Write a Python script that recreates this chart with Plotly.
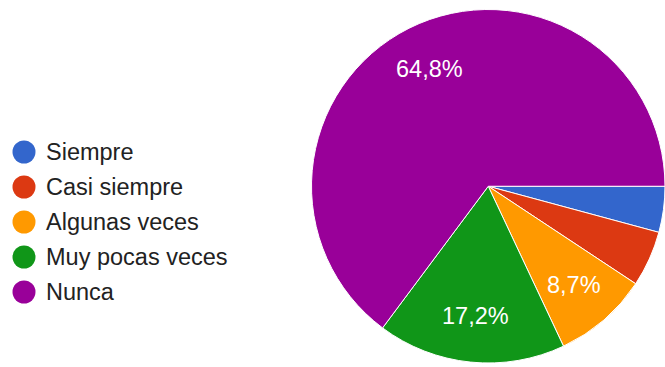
import math
import plotly.graph_objects as go

# Survey answers and their shares (%)
categories = ["Siempre", "Casi siempre", "Algunas veces", "Muy pocas veces", "Nunca"]
shares = [4.2, 5.1, 8.7, 17.2, 64.8]
colors = ["#3366cc", "#dc3912", "#ff9900", "#109618", "#990099"]

# Only slices big enough carry a percentage label (decimal comma)
min_labelled = 8.0

W, H = 665, 367
font_family = "Liberation Sans, Arial, sans-serif"
text_size = 23.5

# Pie placement (paper fractions)
dom_x = [311.5 / W, 1.0]
dom_y = [4 / H, 357.5 / H]

fig = go.Figure()

fig.add_trace(go.Pie(
    labels=categories,
    values=shares,
    textinfo="none",
    marker=dict(colors=colors, line=dict(color="white", width=1)),
    sort=False,
    direction="clockwise",
    rotation=90,
    showlegend=False,
    hoverinfo="label+percent",
    domain=dict(x=dom_x, y=dom_y),
))

# Percentage labels at the mid-angle of each large slice
pw = (dom_x[1] - dom_x[0]) * W
ph = (dom_y[1] - dom_y[0]) * H
radius = min(pw, ph) / 2
cx = (dom_x[0] + dom_x[1]) / 2 * W
cy = (dom_y[0] + dom_y[1]) / 2 * H      # measured from the bottom
label_r = 0.74 * radius
total = sum(shares)
cum = 0.0
for v in shares:
    mid = (cum + v / 2) / total * 2 * math.pi   # clockwise from 3 o'clock
    cum += v
    if v < min_labelled:
        continue
    px = cx + label_r * math.cos(mid)
    py = cy - label_r * math.sin(mid)
    fig.add_annotation(
        x=px / W, y=py / H, xref="paper", yref="paper",
        text=f"{v:.1f}%".replace(".", ","),
        showarrow=False, xanchor="center", yanchor="middle",
        font=dict(family=font_family, size=text_size, color="white"),
    )

# Legend column: one circle + label per category
idx = list(range(len(categories)))
fig.add_trace(go.Scatter(
    x=[24] * len(categories),
    y=idx,
    mode="markers",
    marker=dict(size=23, color=colors),
    hoverinfo="skip",
    showlegend=False,
    cliponaxis=False,
))
for i, name in zip(idx, categories):
    fig.add_annotation(
        x=43.5, y=i, xref="x", yref="y",
        text=name, showarrow=False, xanchor="left", yanchor="middle",
        font=dict(family=font_family, size=text_size, color="#222222"),
    )

row_top, row_gap = 152.0, 35.0
fig.update_layout(
    width=W,
    height=H,
    margin=dict(l=0, r=0, t=0, b=0),
    paper_bgcolor="white",
    plot_bgcolor="white",
    xaxis=dict(visible=False, range=[0, W], domain=[0, 1], fixedrange=True),
    yaxis=dict(visible=False,
               range=[(H - row_top) / row_gap, -row_top / row_gap],
               domain=[0, 1], fixedrange=True),
)

fig.write_html("out.html")
